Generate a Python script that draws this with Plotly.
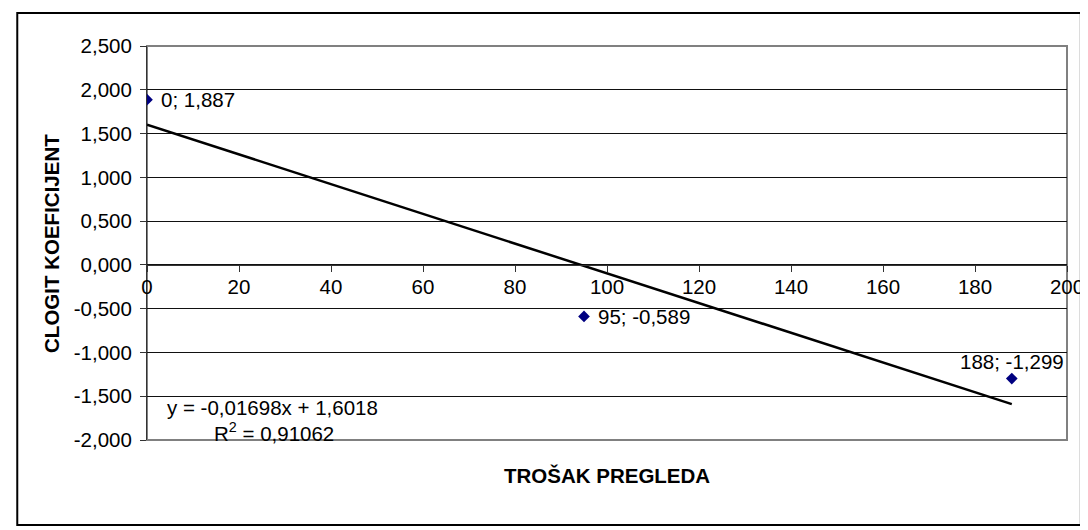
import numpy as np
import plotly.graph_objects as go

# ---- data ----
x_cost = [0, 95, 188]
y_clogit = [1.887, -0.589, -1.299]
point_labels = ["0; 1,887", "95; -0,589", "188; -1,299"]
x_ticks = [0, 20, 40, 60, 80, 100, 120, 140, 160, 180, 200]
y_ticks = [-2.0, -1.5, -1.0, -0.5, 0.0, 0.5, 1.0, 1.5, 2.0, 2.5]
y_tick_labels = ["-2,000", "-1,500", "-1,000", "-0,500", "0,000",
                 "0,500", "1,000", "1,500", "2,000", "2,500"]
y_range = [-2.0, 2.5]
x_range = [0, 200]
eq_text = "y = -0,01698x + 1,6018"
r2_text = "R<sup>2</sup> = 0,91062"
x_title = "TROŠAK PREGLEDA"
y_title = "CLOGIT KOEFICIJENT"

FONT = "Liberation Sans, Arial, sans-serif"
FS = 20.5

W, H = 1088, 530
L, R, T, B = 139, 20, 38, 98
PW, PH = W - L - R, H - T - B


def px_x(p):
    return (p - L) / PW


def px_y(p):
    return (H - B - p) / PH


# trendline from least squares fit of the data
slope, intercept = np.polyfit(x_cost, y_clogit, 1)
trend_x = [min(x_cost), max(x_cost)]
trend_y = [slope * v + intercept for v in trend_x]

fig = go.Figure()
fig.add_trace(go.Scatter(x=trend_x, y=trend_y, mode="lines",
                         line=dict(color="black", width=2.5),
                         showlegend=False, hoverinfo="skip"))
fig.add_trace(go.Scatter(x=x_cost, y=y_clogit, mode="markers",
                         marker=dict(symbol="diamond", size=9, color="#000080"),
                         showlegend=False))

# data labels
shifts = [dict(xanchor="left", xshift=12, yshift=0),
          dict(xanchor="left", xshift=12, yshift=0),
          dict(xanchor="center", xshift=0, yshift=17)]
for xv, yv, lab, s in zip(x_cost, y_clogit, point_labels, shifts):
    fig.add_annotation(x=xv, y=yv, text=lab, showarrow=False,
                       xanchor=s["xanchor"], yanchor="middle",
                       xshift=s["xshift"], yshift=s["yshift"],
                       font=dict(family=FONT, size=FS, color="black"))

# equation
fig.add_annotation(xref="paper", yref="paper", x=px_x(266), y=px_y(399), text=eq_text,
                   showarrow=False, xanchor="center", yanchor="middle",
                   font=dict(family=FONT, size=FS, color="black"))
fig.add_annotation(xref="paper", yref="paper", x=px_x(267), y=px_y(424), text=r2_text,
                   showarrow=False, xanchor="center", yanchor="middle",
                   font=dict(family=FONT, size=FS, color="black"))

# axis titles
fig.add_annotation(xref="paper", yref="paper", x=0.5, y=px_y(467), text="<b>" + x_title + "</b>",
                   showarrow=False, xanchor="center", yanchor="middle",
                   font=dict(family=FONT, size=FS, color="black"))
fig.add_annotation(xref="paper", yref="paper", x=px_x(42), y=0.5, text="<b>" + y_title + "</b>",
                   showarrow=False, xanchor="center", yanchor="middle", textangle=-90,
                   font=dict(family=FONT, size=FS, color="black"))

# plot area border and outer chart border
fig.add_shape(type="rect", xref="paper", yref="paper", x0=0, x1=1, y0=0, y1=1,
              line=dict(color="#808080", width=2), layer="between")
fig.add_shape(type="rect", xref="paper", yref="paper", x0=px_x(8), x1=px_x(1082),
              y0=px_y(517), y1=px_y(5), line=dict(color="black", width=2), layer="above")

fig.update_layout(
    width=W, height=H,
    margin=dict(l=L, r=R, t=T, b=B),
    paper_bgcolor="white", plot_bgcolor="white",
    font=dict(family=FONT, size=FS, color="black"),
    xaxis=dict(range=x_range, tickvals=x_ticks, anchor="free",
               position=(0 - y_range[0]) / (y_range[1] - y_range[0]),
               showline=True, linecolor="#333333", linewidth=1,
               ticks="outside", ticklen=6, tickcolor="#333333",
               showgrid=False, zeroline=False, ticklabelstandoff=-2,
               tickfont=dict(family=FONT, size=FS, color="black")),
    yaxis=dict(range=y_range, tickvals=y_ticks, ticktext=y_tick_labels,
               showline=True, linecolor="#333333", linewidth=1,
               ticks="outside", ticklen=6, tickcolor="#333333",
               showgrid=True, gridcolor="#111111", gridwidth=1,
               zeroline=False, ticklabelstandoff=4,
               tickfont=dict(family=FONT, size=FS, color="black")),
)

fig.write_html("out.html")
